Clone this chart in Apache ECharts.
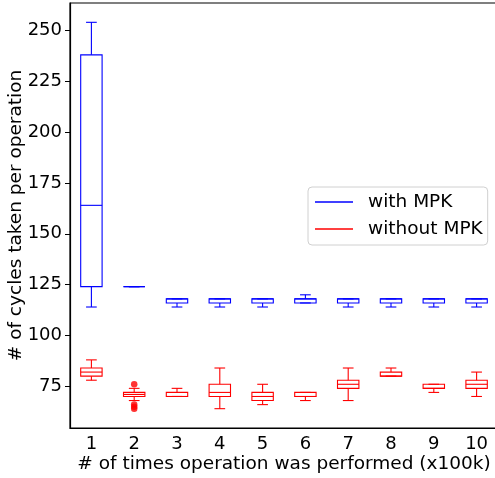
<!DOCTYPE html>
<html>
<head>
<meta charset="utf-8">
<script src="https://cdn.jsdelivr.net/npm/echarts@6/dist/echarts.min.js"></script>
<style>
  html, body { margin: 0; padding: 0; background: #fff; }
  #chart { width: 495px; height: 478px; }
</style>
</head>
<body>
<div id="chart"></div>
<script>
// Runs of the benchmark, in hundreds of thousands of operations
const categories = ['1', '2', '3', '4', '5', '6', '7', '8', '9', '10'];

// Box statistics per run: [min, q1, median, q3, max] (cycles per operation)
const withMPK = [
  [114, 124, 164, 238, 254],
  [124, 124, 124, 124, 124],
  [114, 116, 118, 118, 118],
  [114, 116, 118, 118, 118],
  [114, 116, 118, 118, 118],
  [116, 116, 118, 118, 120],
  [114, 116, 118, 118, 118],
  [114, 116, 118, 118, 118],
  [114, 116, 118, 118, 118],
  [114, 116, 118, 118, 118]
];
const withoutMPK = [
  [78, 80, 82, 84, 88],
  [68, 70, 71, 72, 74],
  [70, 70, 70, 72, 74],
  [64, 70, 72, 76, 84],
  [66, 68, 70, 72, 76],
  [68, 70, 70, 72, 72],
  [68, 74, 76, 78, 84],
  [80, 80, 80, 82, 84],
  [72, 74, 74, 76, 76],
  [70, 74, 76, 78, 82]
];
// Outliers of the "without MPK" runs: [category index, value]
const withoutMPKOutliers = [
  [1, 76], [1, 66], [1, 65], [1, 64]
];

const yTicks = [75, 100, 125, 150, 175, 200, 225, 250];

const BLUE = '#0000ff';
const RED = '#ff0000';
const FONT = 'DejaVu Sans';

// Matplotlib-style box: box half the band wide, caps half the box wide
function boxRenderer(color) {
  return function (params, api) {
    const idx = api.value(0);
    const band = api.size([1, 0])[0];
    const half = band / 4;
    const capHalf = band / 8;
    const pMin = api.coord([idx, api.value(1)]);
    const pQ1 = api.coord([idx, api.value(2)]);
    const pMed = api.coord([idx, api.value(3)]);
    const pQ3 = api.coord([idx, api.value(4)]);
    const pMax = api.coord([idx, api.value(5)]);
    const x = pMed[0];
    const st = { stroke: color, lineWidth: 1.1, fill: null };
    const line = (x1, y1, x2, y2) => ({ type: 'line', shape: { x1, y1, x2, y2 }, style: st });
    return {
      type: 'group',
      children: [
        { type: 'rect', shape: { x: x - half, y: pQ3[1], width: half * 2, height: pQ1[1] - pQ3[1] }, style: st },
        line(x - half, pMed[1], x + half, pMed[1]),
        line(x, pQ1[1], x, pMin[1]),
        line(x, pQ3[1], x, pMax[1]),
        line(x - capHalf, pMin[1], x + capHalf, pMin[1]),
        line(x - capHalf, pMax[1], x + capHalf, pMax[1])
      ]
    };
  };
}

const toData = stats => stats.map((s, i) => [i].concat(s));

const chart = echarts.init(document.getElementById('chart'), null, { renderer: 'canvas' });
chart.setOption({
  animation: false,
  backgroundColor: '#ffffff',
  textStyle: { fontFamily: FONT },
  grid: {
    left: 70, top: 3, width: 428, height: 425,
    containLabel: false,
    outerBoundsMode: 'none',
    show: true, borderColor: '#000', borderWidth: 1.2, backgroundColor: 'transparent'
  },
  legend: {
    orient: 'vertical',
    left: 308, top: 187,
    padding: [5, 5, 6, 7],
    itemGap: 7,
    itemWidth: 38,
    itemHeight: 1.3,
    icon: 'rect',
    selectedMode: false,
    backgroundColor: '#fff',
    borderColor: '#d0d0d0',
    borderWidth: 1,
    borderRadius: 4,
    textStyle: { fontFamily: FONT, fontSize: 18.5, color: '#000', padding: [0, 0, 0, 10], lineHeight: 20 },
    data: [
      { name: 'with MPK', itemStyle: { color: BLUE } },
      { name: 'without MPK', itemStyle: { color: RED } }
    ]
  },
  xAxis: {
    type: 'category',
    data: categories,
    boundaryGap: true,
    name: '# of times operation was performed (x100k)',
    nameLocation: 'middle',
    nameGap: 27,
    nameMoveOverlap: false,
    nameTextStyle: { fontFamily: FONT, fontSize: 18.5, color: '#000' },
    axisLine: { lineStyle: { color: '#000', width: 1.2 } },
    axisTick: { alignWithLabel: true, length: 5, lineStyle: { color: '#000' } },
    axisLabel: { margin: 7, fontFamily: FONT, fontSize: 18, color: '#000' },
    splitLine: { show: false }
  },
  yAxis: {
    type: 'value',
    min: 54.5,
    max: 263.5,
    name: '# of cycles taken per operation',
    nameLocation: 'middle',
    nameGap: 44,
    nameMoveOverlap: false,
    nameTextStyle: { fontFamily: FONT, fontSize: 18.5, color: '#000' },
    axisLine: { show: true, lineStyle: { color: '#000', width: 1.2 } },
    axisTick: { show: true, length: 5, customValues: yTicks, lineStyle: { color: '#000' } },
    axisLabel: { margin: 8, fontFamily: FONT, fontSize: 18, color: '#000', customValues: yTicks },
    splitLine: { show: false }
  },
  series: [
    {
      name: 'with MPK',
      type: 'custom',
      itemStyle: { color: BLUE },
      renderItem: boxRenderer(BLUE),
      encode: { x: 0, y: [1, 2, 3, 4, 5] },
      data: toData(withMPK),
      z: 3
    },
    {
      name: 'without MPK',
      type: 'custom',
      itemStyle: { color: RED },
      renderItem: boxRenderer(RED),
      encode: { x: 0, y: [1, 2, 3, 4, 5] },
      data: toData(withoutMPK),
      z: 3
    },
    {
      name: 'without MPK outliers',
      type: 'scatter',
      symbol: 'circle',
      symbolSize: 6.5,
      itemStyle: { color: RED },
      data: withoutMPKOutliers,
      z: 4
    }
  ]
});
</script>
</body>
</html>
